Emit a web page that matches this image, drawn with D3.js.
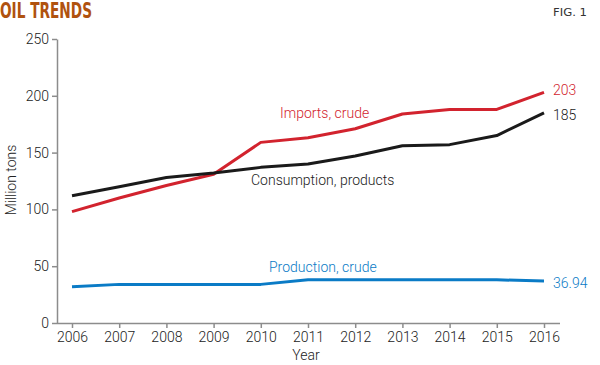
<!DOCTYPE html>
<html>
<head>
<meta charset="utf-8">
<script src="https://cdn.jsdelivr.net/npm/d3@7"></script>
<style>
  body { margin: 0; background: #fff; }
  svg text { font-family: Roboto, "Liberation Sans", sans-serif; font-weight: 300; }
  .axis text { font-size: 14px; fill: #222; }
  .axis path, .axis line { stroke: #8c8c8c; stroke-width: 1.5; }
</style>
</head>
<body>
<div id="chart"></div>
<script>
const years = [2006, 2007, 2008, 2009, 2010, 2011, 2012, 2013, 2014, 2015, 2016]
const imports = [98, 110, 121, 131, 159, 163, 171, 184, 188, 188, 203]
const consumption = [112, 120, 128, 132, 137, 140, 147, 156, 157, 165, 185]
const production = [32, 34, 34, 34, 34, 38, 38, 38, 38, 38, 36.94]
const yTicks = [0, 50, 100, 150, 200, 250]

const W = 600, H = 365

var svg = d3.select("#chart").append("svg")
    .attr("width", W)
    .attr("height", H)

var x = d3.scaleLinear().domain([2006, 2016]).range([72, 544])
var y = d3.scaleLinear().domain([0, 250]).range([323, 39])

// title (condensed display face, squeezed to the reference width)
svg.append("text")
    .text("OIL TRENDS")
    .attr("x", 0)
    .attr("y", 18)
    .attr("textLength", 92)
    .attr("lengthAdjust", "spacingAndGlyphs")
    .style("font-family", "'DejaVu Sans', sans-serif")
    .style("font-weight", "bold")
    .style("font-size", "21px")
    .style("fill", "#b0520f")

svg.append("text")
    .text("FIG. 1")
    .attr("x", 553)
    .attr("y", 16)
    .attr("textLength", 34)
    .attr("lengthAdjust", "spacingAndGlyphs")
    .style("font-family", "'DejaVu Sans', sans-serif")
    .style("font-weight", "normal")
    .style("font-size", "11px")
    .style("fill", "#333")

// axes
svg.append("g")
    .attr("class", "axis")
    .attr("transform", "translate(57,0)")
    .call(d3.axisLeft(y).tickValues(yTicks).tickSize(5).tickPadding(3).tickSizeOuter(0))

svg.append("g")
    .attr("class", "axis")
    .attr("transform", "translate(0,323)")
    .call(d3.axisBottom(x).tickValues(years).tickFormat(d3.format("d")).tickSize(5).tickPadding(4).tickSizeOuter(0))
    .call(g => g.select(".domain").attr("d", "M57,0.5H560"))

svg.append("text")
    .text("Year")
    .attr("x", 306)
    .attr("y", 360)
    .style("text-anchor", "middle")
    .style("font-size", "14px")
    .style("fill", "#222")

svg.append("text")
    .text("Million tons")
    .attr("transform", "translate(16,180) rotate(-90)")
    .style("text-anchor", "middle")
    .style("font-size", "14px")
    .style("fill", "#222")

// lines
var line = d3.line().x((d, i) => x(years[i])).y(d => y(d))

var series = [
    { values: production, color: "#0a7bc6", name: "Production, crude", lx: 269, ly: 272, end: "36.94", ey: 288 },
    { values: imports, color: "#d2232e", name: "Imports, crude", lx: 280, ly: 118, end: "203", ey: 95 },
    { values: consumption, color: "#1a1a1a", name: "Consumption, products", lx: 251, ly: 185, end: "185", ey: 120 }
]

series.forEach(s => {
    svg.append("path")
        .datum(s.values)
        .attr("d", line)
        .style("fill", "none")
        .style("stroke", s.color)
        .style("stroke-width", 3)
        .style("stroke-linejoin", "round")

    svg.append("text")
        .text(s.name)
        .attr("x", s.lx)
        .attr("y", s.ly)
        .style("font-size", "14px")
        .style("fill", s.color)

    svg.append("text")
        .text(s.end)
        .attr("x", 553)
        .attr("y", s.ey)
        .style("font-size", "14px")
        .style("fill", s.color)
})
</script>
</body>
</html>
